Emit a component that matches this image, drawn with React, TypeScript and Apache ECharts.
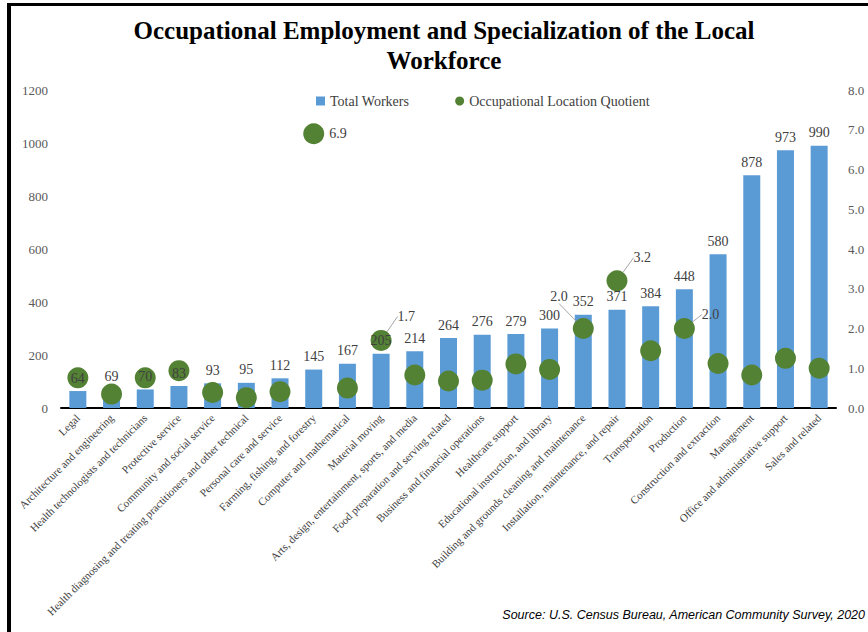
import React, { useEffect, useRef } from "react";
import * as echarts from "echarts";

const categories = [
  "Legal",
  "Architecture and engineering",
  "Health technologists and technicians",
  "Protective service",
  "Community and social service",
  "Health diagnosing and treating practitioners and other technical",
  "Personal care and service",
  "Farming, fishing, and forestry",
  "Computer and mathematical",
  "Material moving",
  "Arts, design, entertainment, sports, and media",
  "Food preparation and serving related",
  "Business and financial operations",
  "Healthcare support",
  "Educational instruction, and library",
  "Building and grounds cleaning and maintenance",
  "Installation, maintenance, and repair",
  "Transportation",
  "Production",
  "Construction and extraction",
  "Management",
  "Office and administrative support",
  "Sales and related",
];

const totalWorkers = [64, 69, 70, 83, 93, 95, 112, 145, 167, 205, 214, 264, 276, 279, 300, 352, 371, 384, 448, 580, 878, 973, 990];

const locationQuotient = [0.76, 0.35, 0.76, 0.94, 0.39, 0.26, 0.41, 6.9, 0.5, 1.7, 0.83, 0.68, 0.7, 1.11, 0.97, 2.0, 3.2, 1.44, 2.0, 1.12, 0.83, 1.25, 1.0];

// which LQ points carry a label
const lqLabelled = [7, 9, 15, 16, 18];

const leftTicks = { min: 0, max: 1200, interval: 200 };
const rightTicks = { min: 0, max: 8, interval: 1 };

const titleText = "Occupational Employment and Specialization of the Local\nWorkforce";
const sourceText = "Source: U.S. Census Bureau, American Community Survey, 2020";

const SERIF = '"Liberation Serif", "Times New Roman", serif';

export default function App() {
  const ref = useRef<HTMLDivElement>(null);
  useEffect(() => {
    if (!ref.current) return;
    const chart = echarts.init(ref.current, null, { renderer: "svg" });
    const labelOffsets: Record<number, { pos: string; dx: number; dy: number; line: boolean }> = {
      7: { pos: "right", dx: 0, dy: 0, line: false },
      9: { pos: "right", dx: 1, dy: -24, line: true },
      15: { pos: "left", dx: 0, dy: -32, line: true },
      16: { pos: "right", dx: 1, dy: -23, line: true },
      18: { pos: "right", dx: 2, dy: -14, line: true },
    };
    chart.setOption({
      animation: false,
      backgroundColor: "#ffffff",
      textStyle: { fontFamily: SERIF },
      graphic: [
        {
          type: "text",
          x: 444,
          y: 15,
          style: {
            text: titleText,
            fontFamily: SERIF,
            fontWeight: "bold",
            fontSize: 25,
            lineHeight: 30,
            fill: "#000000",
            textAlign: "center",
          },
        },
        {
          type: "text",
          x: 865,
          y: 608,
          style: {
            text: sourceText,
            fontFamily: '"Liberation Sans", Arial, sans-serif',
            fontStyle: "italic",
            fontSize: 12.5,
            fill: "#000000",
            textAlign: "right",
          },
        },
        {
          type: "line",
          shape: { x1: 7, y1: 4.5, x2: 868, y2: 4.5 },
          style: { stroke: "#000000", lineWidth: 3 },
        },
        {
          type: "line",
          shape: { x1: 9, y1: 3, x2: 9, y2: 632 },
          style: { stroke: "#000000", lineWidth: 4 },
        },
      ],
      legend: {
        data: [
          { name: "Total Workers", icon: "rect" },
          { name: "Occupational Location Quotient", icon: "circle" },
        ],
        left: 311,
        top: 89,
        itemWidth: 9,
        itemHeight: 9,
        itemGap: 46,
        textStyle: { fontFamily: SERIF, fontSize: 14, color: "#404040" },
      },
      grid: { left: 61, right: 32, top: 90, bottom: 224 },
      xAxis: {
        type: "category",
        data: categories,
        axisLine: { lineStyle: { color: "#000000", width: 2 } },
        axisTick: { show: false },
        axisLabel: {
          interval: 0,
          rotate: 45,
          fontFamily: SERIF,
          fontSize: 11,
          color: "#404040",
          margin: 8,
        },
      },
      yAxis: [
        {
          type: "value",
          ...leftTicks,
          splitLine: { show: false },
          axisLine: { show: false },
          axisTick: { show: false },
          axisLabel: {
            fontFamily: SERIF,
            fontSize: 13,
            color: "#595959",
            margin: 13,
            formatter: (v: number) => String(v),
          },
        },
        {
          type: "value",
          ...rightTicks,
          splitLine: { show: false },
          axisLine: { show: false },
          axisTick: { show: false },
          axisLabel: {
            fontFamily: SERIF,
            fontSize: 13,
            color: "#595959",
            margin: 12,
            formatter: (v: number) => v.toFixed(1),
          },
        },
      ],
      series: [
        {
          name: "Total Workers",
          type: "bar",
          data: totalWorkers,
          barWidth: 17,
          barGap: "-100%",
          z: 1,
          itemStyle: { color: "#5B9BD5" },
        },
        {
          name: "Occupational Location Quotient",
          type: "scatter",
          yAxisIndex: 1,
          data: locationQuotient.map((v, i) => {
            const o = labelOffsets[i];
            return {
              value: v,
              label: lqLabelled.includes(i)
                ? {
                    show: true,
                    position: o.pos,
                    distance: 5,
                    formatter: (p: any) => Number(p.value).toFixed(1),
                    fontFamily: SERIF,
                    fontSize: 14,
                    color: "#404040",
                  }
                : { show: false },
              labelLine: { show: !!(o && o.line) },
            };
          }),
          symbol: "circle",
          symbolSize: 21,
          z: 2,
          itemStyle: { color: "#548235", opacity: 1 },
          labelLayout: (p: any) => {
            const o = labelOffsets[p.dataIndex];
            return o ? { dx: o.dx, dy: o.dy } : {};
          },
          labelLine: {
            show: true,
            lineStyle: { color: "#a6a6a6", width: 1 },
          },
        },
        {
          name: "labels",
          type: "bar",
          data: totalWorkers,
          barWidth: 17,
          barGap: "-100%",
          z: 3,
          silent: true,
          itemStyle: { color: "rgba(0,0,0,0)" },
          label: {
            show: true,
            position: "top",
            distance: 6,
            fontFamily: SERIF,
            fontSize: 14,
            color: "#404040",
          },
        },
      ],
    });
    return () => chart.dispose();
  }, []);
  return (
    <div
      ref={ref}
      style={{ position: "absolute", left: 0, top: 0, width: 868, height: 632 }}
    />
  );
}
